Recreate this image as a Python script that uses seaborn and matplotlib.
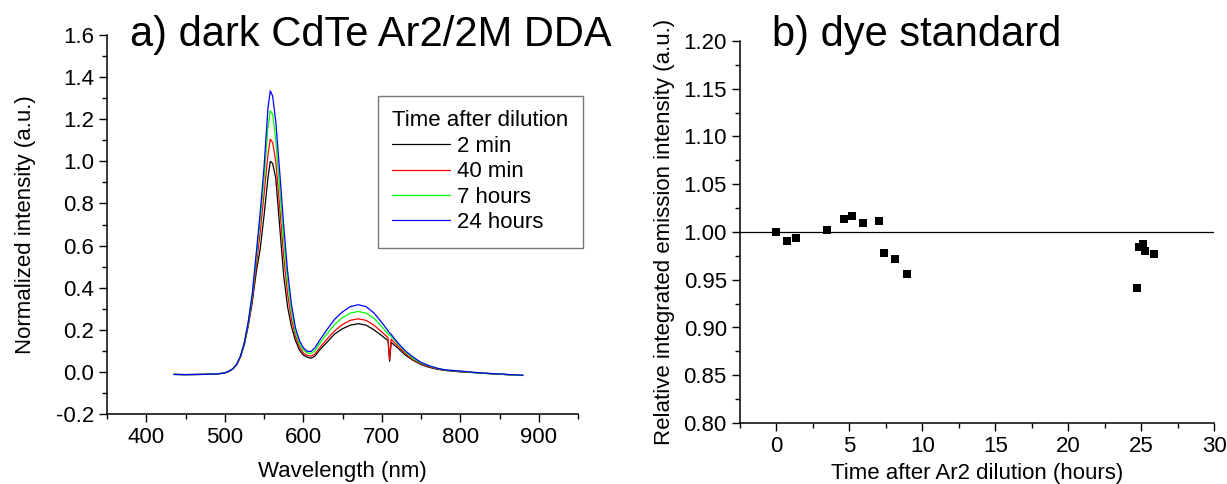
import numpy as np
import pandas as pd
import matplotlib
matplotlib.use("Agg")
import matplotlib.pyplot as plt
from matplotlib.ticker import MultipleLocator, FixedLocator, FormatStrFormatter
import seaborn as sns

# --- panel a: emission spectra ---
wavelength = [435, 450, 470, 490, 500, 505, 510, 515, 520, 525, 530, 535, 540, 545, 550,
              555, 558, 561, 565, 570, 575, 580, 585, 590, 595, 600, 605, 610, 615, 620,
              630, 640, 650, 660, 670, 680, 690, 700, 708, 710, 712, 720, 730, 740, 750,
              760, 770, 780, 800, 820, 840, 860, 880]

spec_2min = [-0.012, -0.013, -0.012, -0.010, -0.005, 0.002, 0.013, 0.033, 0.070, 0.130, 0.220,
             0.330, 0.470, 0.580, 0.740, 0.920, 1.000, 0.990, 0.920, 0.690, 0.460, 0.310,
             0.215, 0.150, 0.105, 0.080, 0.070, 0.065, 0.075, 0.100, 0.140, 0.180, 0.205,
             0.222, 0.229, 0.222, 0.200, 0.172, 0.148, 0.050, 0.140, 0.115, 0.080, 0.055,
             0.035, 0.022, 0.013, 0.007, 0.000, -0.004, -0.009, -0.013, -0.017]

spec_40min = [-0.012, -0.013, -0.012, -0.010, -0.005, 0.002, 0.013, 0.034, 0.072, 0.135, 0.230,
              0.345, 0.500, 0.660, 0.840, 1.030, 1.105, 1.090, 1.000, 0.780, 0.550, 0.370,
              0.250, 0.170, 0.120, 0.090, 0.078, 0.075, 0.085, 0.110, 0.155, 0.195, 0.225,
              0.245, 0.252, 0.245, 0.222, 0.190, 0.162, 0.060, 0.155, 0.125, 0.088, 0.058,
              0.038, 0.025, 0.015, 0.008, 0.002, -0.004, -0.009, -0.013, -0.017]

spec_7h = [-0.012, -0.013, -0.012, -0.010, -0.005, 0.002, 0.014, 0.035, 0.074, 0.138, 0.235,
           0.360, 0.535, 0.720, 0.910, 1.160, 1.240, 1.225, 1.100, 0.870, 0.630, 0.430,
           0.290, 0.190, 0.135, 0.105, 0.090, 0.088, 0.100, 0.130, 0.180, 0.225, 0.258,
           0.279, 0.287, 0.279, 0.255, 0.215, 0.180, 0.175, 0.170, 0.135, 0.095, 0.063,
           0.042, 0.028, 0.017, 0.009, 0.003, -0.004, -0.009, -0.013, -0.017]

spec_24h = [-0.012, -0.013, -0.012, -0.010, -0.005, 0.003, 0.014, 0.035, 0.075, 0.140, 0.240,
            0.370, 0.560, 0.750, 0.970, 1.250, 1.335, 1.310, 1.190, 0.950, 0.700, 0.480,
            0.320, 0.210, 0.150, 0.115, 0.098, 0.097, 0.115, 0.145, 0.200, 0.250, 0.285,
            0.310, 0.319, 0.310, 0.280, 0.235, 0.195, 0.185, 0.178, 0.140, 0.100, 0.070,
            0.045, 0.030, 0.018, 0.010, 0.004, -0.003, -0.008, -0.012, -0.016]

series_names = ["2 min", "40 min", "7 hours", "24 hours"]
series_colors = ["#000000", "#ff0000", "#00ff00", "#0000ff"]

# --- panel b: dye standard ---
t_hours = [0.0, 0.72, 1.36, 3.48, 4.66, 5.18, 5.9, 7.0, 7.37, 8.16, 8.94,
           24.75, 24.88, 25.1, 25.3, 25.9]
rel_intensity = [1.000, 0.991, 0.994, 1.002, 1.0136, 1.0168, 1.009, 1.0115, 0.978, 0.972, 0.956,
                 0.941, 0.9846, 0.9874, 0.980, 0.9766]

spectra = pd.concat([
    pd.DataFrame({"wl": wavelength, "I": vals, "Time after dilution": name})
    for name, vals in zip(series_names, [spec_2min, spec_40min, spec_7h, spec_24h])
])
dye = pd.DataFrame({"t": t_hours, "rel": rel_intensity})

sns.set_style("ticks")
plt.rcParams["font.family"] = ["Liberation Sans", "DejaVu Sans"]
plt.rcParams["axes.unicode_minus"] = False
for key in ("text.color", "axes.labelcolor", "xtick.color", "ytick.color", "axes.edgecolor"):
    plt.rcParams[key] = "black"

fs = 16
fig = plt.figure(figsize=(12.27, 4.84), dpi=100)
ax1 = fig.add_axes([107 / 1227, 1 - 414 / 484, (578 - 107) / 1227, (414 - 35) / 484])
ax2 = fig.add_axes([740 / 1227, 1 - 423 / 484, (1214 - 740) / 1227, (423 - 41) / 484])

sns.lineplot(data=spectra, x="wl", y="I", hue="Time after dilution", palette=series_colors,
             estimator=None, sort=False, linewidth=0.9, ax=ax1)
ax1.set_xlim(350, 950)
ax1.set_ylim(-0.2, 1.6)
ax1.xaxis.set_major_locator(FixedLocator([400, 500, 600, 700, 800, 900]))
ax1.xaxis.set_minor_locator(MultipleLocator(50))
ax1.yaxis.set_major_locator(MultipleLocator(0.2))
ax1.yaxis.set_minor_locator(MultipleLocator(0.1))
ax1.yaxis.set_major_formatter(FormatStrFormatter("%.1f"))
ax1.set_xlabel("Wavelength (nm)", fontsize=fs, labelpad=9)
ax1.set_ylabel("Normalized intensity (a.u.)", fontsize=fs, labelpad=14)

handles, labels = ax1.get_legend_handles_labels()
leg = ax1.legend(handles, labels, title="Time after dilution", fontsize=fs, title_fontsize=fs,
                 loc="upper right", bbox_to_anchor=(583 / 1227, 1 - 96 / 484),
                 bbox_transform=fig.transFigure, borderaxespad=0, frameon=True, fancybox=False,
                 handlelength=2.6, handletextpad=0.3, labelspacing=0.2, borderpad=0.65,
                 alignment="left")
leg.get_frame().set_edgecolor("#555555")
leg.get_frame().set_linewidth(1.0)

sns.scatterplot(data=dye, x="t", y="rel", marker="s", s=36, color="black",
                linewidth=0, ax=ax2)
ax2.axhline(1.0, color="black", linewidth=0.9, zorder=0)
ax2.set_xlim(-2.5, 30)
ax2.set_ylim(0.8, 1.2)
ax2.xaxis.set_major_locator(MultipleLocator(5))
ax2.xaxis.set_minor_locator(MultipleLocator(2.5))
ax2.yaxis.set_major_locator(MultipleLocator(0.05))
ax2.yaxis.set_minor_locator(MultipleLocator(0.025))
ax2.yaxis.set_major_formatter(FormatStrFormatter("%.2f"))
ax2.set_xlabel("Time after Ar2 dilution (hours)", fontsize=fs, labelpad=4)
ax2.set_ylabel("Relative integrated emission intensity (a.u.)", fontsize=fs, labelpad=6)

for ax in (ax1, ax2):
    sns.despine(ax=ax)
    ax.tick_params(which="major", length=6, width=1, labelsize=fs, direction="out")
    ax.tick_params(which="minor", length=3.5, width=1, direction="out")
    for sp in ("left", "bottom"):
        ax.spines[sp].set_linewidth(1.1)
        ax.spines[sp].set_color("black")

fig.text(130 / 1227, 1 - 46 / 484, "a) dark CdTe Ar2/2M DDA", fontsize=30, ha="left", va="baseline")
fig.text(772 / 1227, 1 - 46 / 484, "b) dye standard", fontsize=30, ha="left", va="baseline")

fig.savefig("out.png", dpi=100)
